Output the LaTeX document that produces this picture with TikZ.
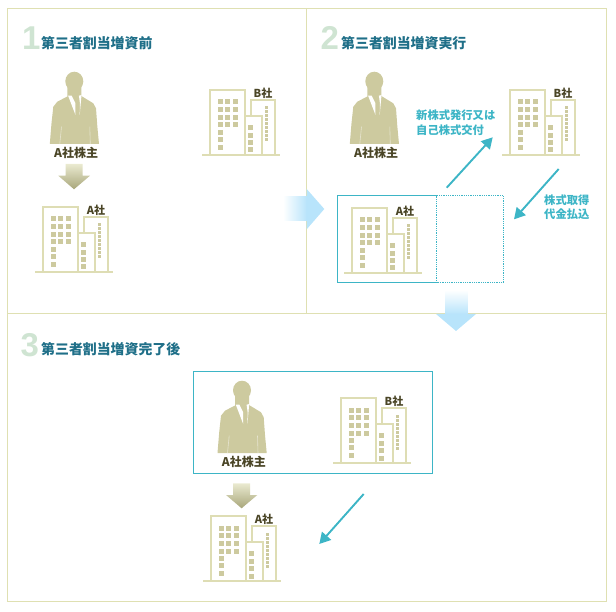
\documentclass[tikz,border=0pt]{standalone}
\usepackage{fontspec}
\setmainfont{Noto Sans CJK JP}
\newfontfamily\numfont{Liberation Sans}
\usetikzlibrary{arrows.meta}
\definecolor{framecol}{HTML}{DFE0B2}
\definecolor{olivecol}{HTML}{CDCA9F}
\definecolor{wallcol}{HTML}{DEDDB4}
\definecolor{darkcol}{HTML}{4A4526}
\definecolor{titlecol}{HTML}{1F6F88}
\definecolor{numcol}{HTML}{CFE4D2}
\definecolor{tealcol}{HTML}{3DB5C6}
\definecolor{bluecol}{HTML}{B8E4FB}
\definecolor{arrowtop}{HTML}{EAEAD0}
\definecolor{arrowend}{HTML}{A8A67A}
\tikzset{
	wall/.style={draw=wallcol, line width=1.8pt},
	win/.style={fill=olivecol},
	bldgname/.style={font=\bfseries\fontsize{11}{11}\selectfont, text=darkcol, inner sep=0pt},
	whoname/.style={font=\bfseries\fontsize{12}{12}\selectfont, text=darkcol, inner sep=0pt},
	paneltitle/.style={font=\bfseries\fontsize{13.9}{14}\selectfont, text=titlecol, anchor=west, inner sep=0pt},
	panelnum/.style={font=\numfont\bfseries\fontsize{33}{33}\selectfont, text=numcol, anchor=west, inner sep=0pt},
	tealnote/.style={font=\bfseries\fontsize{11.3}{14.6}\selectfont, text=tealcol, anchor=west, align=left, inner sep=0pt},
	tealarrow/.style={draw=tealcol, line width=1.9pt, -{Triangle[length=11pt,width=12pt]}},
	building/.pic={
		\draw[wall] (8.3,0) -- (8.3,-65.3) -- (43.3,-65.3) -- (43.3,0);
		\draw[wall] (43.3,-39.3) -- (60,-39.3) -- (60,0);
		\draw[wall] (49,-39.3) -- (49,-54.7) -- (72.7,-54.7) -- (72.7,0);
		\draw[wall] (0,0) -- (78,0);
		%windows of the tower
		\foreach \y in {-53,-45.3,-37.3,-30,-22.3,-15.3,-7.7}{
			\fill[win] (15.8,\y-2.5) rectangle ++(5,5);
		}
		\foreach \y in {-53,-45.3,-37.3,-30}{
			\fill[win] (23.2,\y-2.5) rectangle ++(5,5);
			\fill[win] (30.5,\y-2.5) rectangle ++(5,5);
		}
		\foreach \y in {-27.7,-19.7,-12.3,-5}{
			\fill[win] (45.8,\y-2.5) rectangle ++(5,5);
		}
		\foreach \y in {-47,-43,...,-15}{
			\fill[win] (63.4,\y-1.5) rectangle ++(3,3);
		}
		\node (-name) at (61,-62) [bldgname]{#1};
	},
	holder/.pic={
		\fill[olivecol] (0,9.3) ellipse (9 and 9.6);
		\fill[olivecol] (-24.5,72) -- (-22.8,51.3) -- (-21,34.7) -- (-17,29.7) -- (-7,24.5) -- (-7,14)
			-- (7,14) -- (7,24) -- (19,31.3) -- (21.7,36.3) -- (23,54) -- (24.7,72) -- cycle;
		%shirt and tie
		\fill[white] (-6.2,23.7) -- (-2.6,23.7) -- (1,31) -- (1.2,43) -- cycle;
		\fill[white] (7.2,23) -- (4.6,23.7) -- (5.6,31) -- (5.4,43) -- cycle;
		\draw[white!50!olivecol, line width=0.6pt] (-12.8,54.7) -- (-14.5,72);
		\draw[white!50!olivecol, line width=0.6pt] (15.5,54.7) -- (16,72);
		\node (-name) at (1.8,81) [whoname]{A社株主};
	},
}
\begin{document}
\begin{tikzpicture}[x=1pt, y=-1pt]
	\useasboundingbox (0,0) rectangle (616,612);
	%frames of the three panels
	\draw[framecol, line width=1pt] (7.5,8.5) rectangle (606.5,601);
	\draw[framecol, line width=1pt] (7.5,314) -- (606.5,314);
	\draw[framecol, line width=1pt] (306.5,8.5) -- (306.5,314);

	%titles
	\node (numOne) at (22,38) [panelnum]{1};
	\node (titleOne) at (41,43) [paneltitle]{第三者割当増資前};
	\node (numTwo) at (320.5,38) [panelnum]{2};
	\node (titleTwo) at (341,43) [paneltitle]{第三者割当増資実行};
	\node (numThree) at (20.5,345) [panelnum]{3};
	\node (titleThree) at (41,349) [paneltitle]{第三者割当増資完了後};

	%panel 1
	\pic (holderOne) at (74.3,72) {holder};
	\pic (bldgOneA) at (35,272) {building=A社};
	\pic (bldgOneB) at (202,155) {building=B社};
	\shade[top color=arrowtop, bottom color=arrowend] (65.7,164) -- (82.7,164) -- (82.7,175.7) -- (90,175.7)
		-- (74,189.3) -- (58.3,175.7) -- (65.7,175.7) -- cycle;

	%panel 2
	\pic (holderTwo) at (374.3,72) {holder};
	\pic (bldgTwoA) at (344,273) {building=A社};
	\pic (bldgTwoB) at (502,155) {building=B社};
	\draw[tealcol, line width=0.8pt] (436.7,195.7) -- (337.3,195.7) -- (337.3,282.7) -- (436.7,282.7);
	\draw[tealcol, line width=0.8pt, densely dotted] (436.7,195.7) rectangle (503.3,282.7);
	\node (noteNew) at (416,122.6) [tealnote]{新株式発行又は\\自己株式交付};
	\node (notePay) at (544,207) [tealnote]{株式取得\\代金払込};
	\coordinate (newFrom) at (446.7,187.7);
	\coordinate (newTo) at (492.7,137.3);
	\coordinate (payFrom) at (558.7,169);
	\coordinate (payTo) at (514,219.3);
	\draw[tealarrow] (newFrom) -- (newTo);
	\draw[tealarrow] (payFrom) -- (payTo);

	%panel 3
	\draw[tealcol, line width=0.8pt] (193.7,371.7) rectangle (432.7,473.3);
	\pic (holderThree) at (242,381) {holder};
	\pic (bldgThreeB) at (333,463) {building=B社};
	\pic (bldgThreeA) at (203,581) {building=A社};
	\shade[top color=arrowtop, bottom color=arrowend] (233,483.3) -- (250,483.3) -- (250,495) -- (257.3,495)
		-- (241.6,508.3) -- (226,495) -- (233,495) -- cycle;
	\coordinate (lastFrom) at (363.7,494);
	\coordinate (lastTo) at (319.3,544);
	\draw[tealarrow] (lastFrom) -- (lastTo);

	%arrows between the panels
	\shade[left color=white, right color=bluecol] (283,197) rectangle (307,221);
	\fill[bluecol] (306.7,189) -- (324.3,209) -- (306.7,229.3) -- cycle;
	\shade[top color=white, bottom color=bluecol] (445,290) rectangle (467.7,314.3);
	\fill[bluecol] (476,314) -- (456,331) -- (436,314) -- cycle;
\end{tikzpicture}
\end{document}
